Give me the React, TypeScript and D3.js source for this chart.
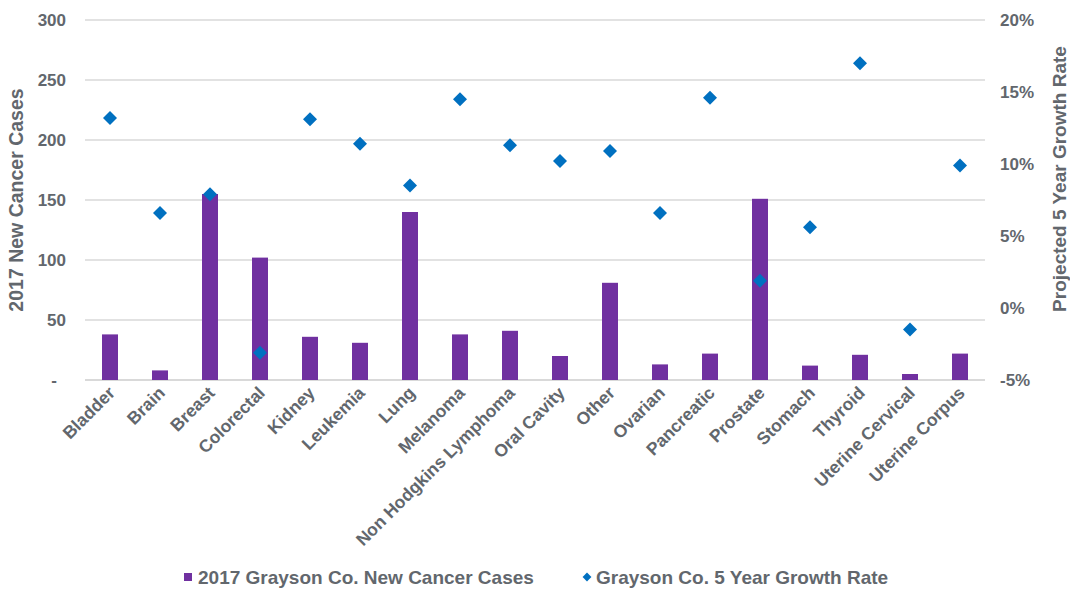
import React from "react";
import * as d3 from "d3";

const categories = ["Bladder","Brain","Breast","Colorectal","Kidney","Leukemia","Lung","Melanoma","Non Hodgkins Lymphoma","Oral Cavity","Other","Ovarian","Pancreatic","Prostate","Stomach","Thyroid","Uterine Cervical","Uterine Corpus"];
const newCases = [38, 8, 155, 102, 36, 31, 140, 38, 41, 20, 81, 13, 22, 151, 12, 21, 5, 22];
const growthRate = [13.2, 6.6, 7.9, -3.1, 13.1, 11.4, 8.5, 14.5, 11.3, 10.2, 10.9, 6.6, 14.6, 1.9, 5.6, 17.0, -1.5, 9.9];
const leftTicks = [0, 50, 100, 150, 200, 250, 300];
const rightTicks = [-5, 0, 5, 10, 15, 20];
const barLabel = "2017 Grayson Co. New Cancer Cases";
const pointLabel = "Grayson Co. 5 Year Growth Rate";

const W = 1070, H = 589;
const left = 85, right = 985, top = 20, bottom = 380;
const textColor = "#62676d";
const barColor = "#7030A0";
const dotColor = "#0070C0";
const font = "'Liberation Sans', Arial, sans-serif";

export default function App() {
  const x = d3.scaleBand<string>().domain(categories).range([left, right]).paddingInner(0.68).paddingOuter(0.34);
  const yL = d3.scaleLinear().domain([0, 300]).range([bottom, top]);
  const yR = d3.scaleLinear().domain([-5, 20]).range([bottom, top]);
  const center = (c: string) => (x(c) as number) + x.bandwidth() / 2;
  const diamond = d3.symbol().type(d3.symbolDiamond2).size(125)() as string;
  const legendDiamond = d3.symbol().type(d3.symbolDiamond2).size(50)() as string;
  return (
    <svg width={W} height={H} style={{ position: "absolute", left: 0, top: 0, background: "#fff" }} fontFamily={font}>
      {leftTicks.map((t) => (
        <line key={"g" + t} x1={left} x2={right} y1={yL(t)} y2={yL(t)} stroke="#d9d9d9" strokeWidth={t === 0 ? 2 : 1.5} />
      ))}
      {categories.map((c, i) => (
        <rect key={"b" + c} x={x(c)} y={yL(newCases[i])} width={x.bandwidth()} height={yL(0) - yL(newCases[i])} fill={barColor} />
      ))}
      {categories.map((c, i) => (
        <path key={"d" + c} d={diamond} transform={`translate(${center(c)},${yR(growthRate[i])})`} fill={dotColor} />
      ))}
      {leftTicks.map((t) => (
        <text key={"l" + t} x={t === 0 ? 54 : 66} y={yL(t)} dy="0.35em" textAnchor={t === 0 ? "middle" : "end"} fontSize={17} fontWeight="bold" fill={textColor}>
          {t === 0 ? "-" : t}
        </text>
      ))}
      {rightTicks.map((t) => (
        <text key={"r" + t} x={1000} y={yR(t)} dy="0.35em" textAnchor="start" fontSize={17} fontWeight="bold" fill={textColor}>
          {t + "%"}
        </text>
      ))}
      {categories.map((c) => (
        <text key={"x" + c} transform={`translate(${center(c) + 6},${394}) rotate(-45)`} textAnchor="end" fontSize={17.5} fontWeight="bold" fill={textColor}>
          {c}
        </text>
      ))}
      <text transform={`translate(23,200) rotate(-90)`} textAnchor="middle" fontSize={19.5} fontWeight="bold" fill={textColor}>
        2017 New Cancer Cases
      </text>
      <text transform={`translate(1066,179) rotate(-90)`} textAnchor="middle" fontSize={19} fontWeight="bold" fill={textColor}>
        Projected 5 Year Growth Rate
      </text>
      <g>
        <rect x={184} y={573} width={8} height={8} fill={barColor} />
        <text x={198} y={577} dy="0.35em" fontSize={19} fontWeight="bold" fill={textColor}>{barLabel}</text>
        <path d={legendDiamond} transform="translate(587,577)" fill={dotColor} />
        <text x={596} y={577} dy="0.35em" fontSize={19} fontWeight="bold" fill={textColor}>{pointLabel}</text>
      </g>
    </svg>
  );
}
